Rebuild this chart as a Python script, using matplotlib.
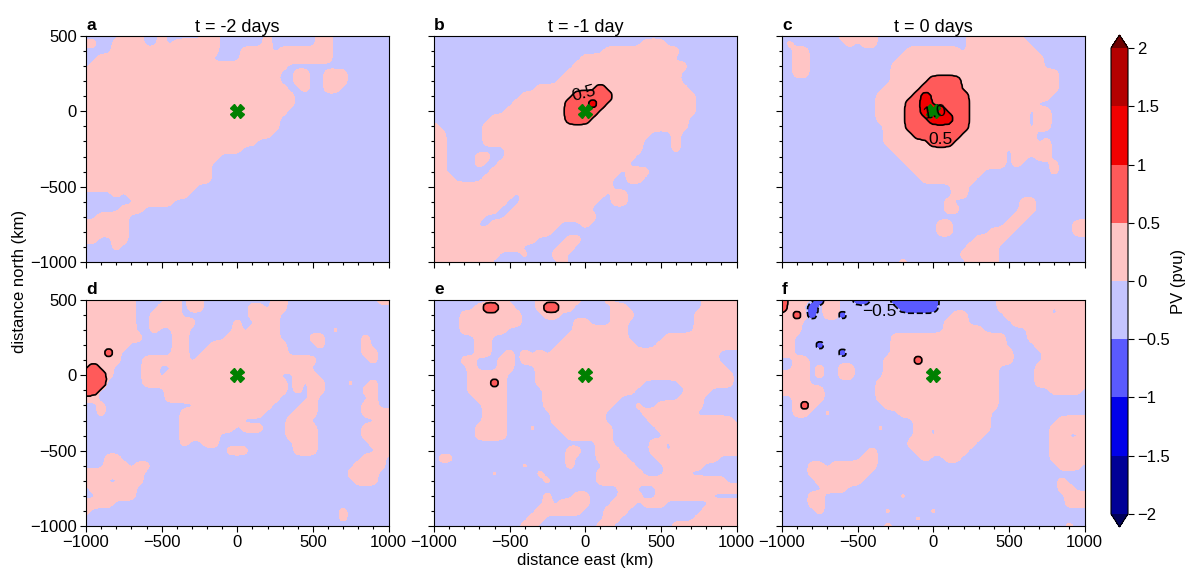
import numpy as np
import matplotlib
matplotlib.use('Agg')
import matplotlib.pyplot as plt
from matplotlib.colors import ListedColormap, BoundaryNorm
from matplotlib.cm import ScalarMappable
from matplotlib.ticker import MultipleLocator

plt.rcParams['font.family'] = ['Liberation Sans', 'DejaVu Sans']
plt.rcParams['font.size'] = 12

# PV on a 50 km grid, rows from y=500 down to y=-1000, x=-1000 to 1000
# - weak negative, + weak positive, r above 0.5, R above 1, b below -0.5
field_a = [
"----- +++-- +---- -++-- ----+ ----- -++-- ----- -",
"++--+ +++-- +-+++ +++-- ----+ ----- -++-- ----- -",
"----+ +++++ +++++ +++-- -++++ -++++ +++-- ----- -",
"--+++ +++++ +++++ ++--- -++++ +++++ +++-- ----- -",
"-++++ +++++ +++++ +++++ +++++ ++--- ----- ----- -",
"+++++ +++++ +++++ +++++ +++++ +--++ --+++ ----- -",
"+++++ +++++ +++++ +++++ +++++ +--++ --+++ ----- -",
"+++++ +++++ +++++ +++++ +++++ ++--+ --++- ----- -",
"+++++ +++++ +++++ +++++ +++++ +++-- ----- ----- -",
"+++++ +++++ +++++ +++++ +++++ +++-- ----- ----- -",
"+++++ +++++ +++++ +++++ +++++ ++--- ----- ----- -",
"+++++ +++++ +++++ +++++ +++++ +---- ----- ----- -",
"+++++ +++++ +++++ +++++ +++++ +---- ----- ----- -",
"+++++ +++++ +++++ +++++ +++++ ----- ----- ----- -",
"+++++ +++++ +++++ +++++ +++-- ----- ----- ----- -",
"+++++ +++++ +++++ +++++ +---- ----- ----- ----- -",
"+++++ +++++ +++++ +++-- ----- ----- ----- ----- -",
"+++++ +++++ +++++ ++--- ----- ----- ----- ----- -",
"+++++ +++++ +++++ ++--- ----- ----- ----- ----- -",
"+++++ +++++ +++++ ++--- ----- ----- ----- ----- -",
"+++++ +++++ +++++ ----- ----- ----- ----- ----- -",
"----+ -++++ ++++- ----- ----- ----- ----- ----- -",
"----- --+++ ++--- ----- ----- ----- ----- ----- -",
"----- +++-- ----- ----- ----- ----- ----- ----- -",
"--+++ +---- ----- ----- ----- ----- ----- ----- -",
"+++++ +---- ----- ----- ----- ----- ----- ----- -",
"+++++ +---- ----- ----- ----- ----- ----- ----- -",
"++--+ +---- ----- ----- ----- ----- ----- ----- -",
"----+ ----- ----- ----- ----- ----- ----- ----- -",
"----- ----- ----- ----- ----- ----- ----- ----- -",
"----- ----- ----- ----- ----- ----- ----- ----- -",
]

field_b = [
"----- ----- ----- ----- ----- ----- ----- ----- -",
"----- ----- ----- ----- ----- ---++ +---- ----- -",
"----- ----- ----- ----- ---++ +++++ +++-- ----- -",
"----- ----- ----- ----- +++++ +++++ ++--- ----- -",
"----- ----- ----- ----+ +++++ +++++ ++++- ----- -",
"----- ----- ----- ---++ +++++ +++++ +++-- ----- -",
"----- ----- ----- --+++ +++++ +++++ +++-- ----- -",
"----- ----- ----+ +++++ ++r++ +++++ ++++- ----- -",
"----- ----- --+++ ++++r rrrr+ +++++ +++++ ----- -",
"----- ----- -++++ +++rr rRr++ +++++ +++++ ----- -",
"----- ----- +++++ +++rr rr+++ +++++ +++++ ----- -",
"----- ---++ +++++ +++rr r++++ +++++ ++++- ----- -",
"+---- --+++ +++++ +++++ +++++ +++++ ++++- ----- -",
"++--- --+++ +++++ +++++ +++++ ++++- --+-- ----- -",
"++--- --+++ +++++ +++++ +++++ +++-- --+-- ----- -",
"++--- ----- +++++ +++++ +++++ +++-- --+-- ----- -",
"++--- -++-- +++++ +++++ +++++ ++--- ----- ----- -",
"++--- -+--+ +++++ +++++ +++++ +---- ----- ----- -",
"++--- ---++ +++++ +++++ +++++ -+++- ----- ----- -",
"+++-- --+++ +++++ +++++ ++++- -++-- ----- ----- -",
"+++++ +++++ +++++ +++++ ++++- ----- ----- ----- -",
"+++++ +++++ +-+++ +++++ +++-+ +---- ----- ----- -",
"+++++ +++++ --+++ +++++ ++--+ +---- ----- ----- -",
"+++++ ++++- -++++ +++++ +---- ----- ----- ----- -",
"+++++ ++--- +++++ +++++ ++--- ----- ----- ----- -",
"+++++ +--++ +++++ ++--- +---- ----- ----- ----- -",
"+++++ +++++ +++++ +---- ----- ----- ----- ----- -",
"+++++ +++++ ++++- ---++ ----- ----- ----- ----- -",
"+++++ +++++ ++--- --++- ----- ----- ----- ----- -",
"+++++ ++++- --+-- -++-- ----- ----- ----- ----- -",
"+++++ +++-- ----- --+-- ----- ----- ----- ----- -",
]

field_c = [
"----- ---++ +++-- ----- ----- +++++ ++--- ----- -",
"-+--- ----+ -++-- ----- ----- +++++ +++-- ----- -",
"--++- ----- ----- --+++ ++++- +++++ ++++- ----- -",
"--++- ----- ----- -++++ +++++ +++++ +++++ ----- -",
"--++- ----- ----- +++++ +++++ +++++ +++++ ----- -",
"--++- ----- ----- +++++ +++++ +++++ +++++ ++--- -",
"----- ----- ----- +++++ rrrr+ +++++ +++++ ++--- -",
"----- ----- ----+ ++++r rrrr+ +++++ +++++ ++--- -",
"----- ----- ---++ +++rR rrrrr +++++ +++++ +---- -",
"----- ----- ---++ ++rrR rrrrr +++++ ++++- ----- -",
"----- ----- ---++ ++rrR RRrrr +++++ +++-+ +---- -",
"----- ----- ---++ ++rrr RRRrr +++++ +++-+ +---- -",
"----- ----- ----+ ++rrr rrrrr +++++ +++-+ +---- -",
"----- ----- ----+ +++rr rrrr+ +++++ ++++- ----- -",
"----- ----- ----+ +++++ rrr++ +++++ ++++- +---- -",
"----- ----- ----- +++++ +++++ +++++ -++++ +---- -",
"----- ----- ----- -++++ +++++ +++++ -++-+ +---- -",
"----- ----- ----- --+++ +++++ +++++ -+--- -+--- -",
"----- ----- ----- ---++ +++++ ++--- ----- -+--- -",
"----- ----- ----- ----+ +++++ +---- ----- ----- -",
"----- ----- ----- ----- ---++ ----- ----- ----- -",
"----- ----- ----- ----- ---++ ----- ----- ----- -",
"----- ----- ----- ----- --+-- ----- --++- ----- -",
"----- ----- ----- ----- --++- ----- --++- ----- -",
"----- ----- ----- ----- ----- ----- -++-- ----- -",
"----- ----- ----- ----- -++-- ----- ++--- ----+ +",
"----- ----- ----- ----- -++-- ---++ +---- ----+ +",
"----- ----- ----- ----- ----- -++++ ----- ----- -",
"----- ----- ----- ----- ----- ++++- ----- ----- -",
"----- ----- ----- ----- ----+ ++++- ----- ----- -",
"----- ----- ----- -+--- ----- ++++- ----- ----- -",
]

field_d = [
"+++++ ++--- -++-+ +---- ----- ++--- ----- ----+ +",
"++-++ ++--- +++-+ +---- --++- ++--- ----- ----- -",
"+++++ ++--+ +++-- ----- --+++ +---- ----- ----- -",
"+++++ ++--+ +++++ ----- +--++ +---- ----- ----- -",
"+++++ ++--+ --++- ----- +-+++ +---- ---+- ----- -",
"+++++ +++-- --++- ----+ +++++ +---- ++--- --+-- -",
"+++++ +---- --++- --+++ +++++ ++--- -+--- --+-- -",
"+++r+ ----- --++- -++++ +++++ ++--- ----- --++- -",
"+++++ ---++ ++++- +++++ +++++ +++++ +---- ---+- -",
"+r++- ---++ --+++ +++++ +++++ +++++ ----- ----- -",
"rrr+- ---++ -++++ +++++ +++++ +--++ +---- ----- -",
"rrr-- ---++ +++-+ +++++ +++++ ++-+- ++--- +--+- -",
"rr--- ----- -++++ +++++ +++++ ++-+- ++--- --++- -",
"++--- ----- -++++ +++++ +++++ +---- +---- ---+- -",
"--+-- ----- ----- +++++ +++++ ----+ +---- --++- -",
"--+-- ----- ---++ +++++ ++++- ---++ +---- --+++ +",
"----- ----- ---++ +++++ +---- --+++ ----- ----+ +",
"----- ----- ---++ +++++ -+++- --+++ +---- --+++ +",
"----- ----- ---++ +++-- ----- --+++ +---- --+++ +",
"----- ----- ---+- -++-- ----- ---++ +---- ---++ +",
"----- ----- ----- ----+ ++--- ---++ +---- ----+ +",
"---++ ----- ----- ----- ----- ----- ----- --+++ -",
"---++ +-++- ----- ----- ----- ----- ----- -++++ -",
"+++++ +++-- ----- ----- ----- ----- ----- ++++- -",
"+++-- +++-- ----- ----- ----- ----- ----- -+++- -",
"-++++ ++--- ----- ----- ----- ----- ----- ----- -",
"--+++ ++--- ----- ----- ----- ----- ----- ----- -",
"++++- ----- ----- ----- ----- ----- ----- ----- -",
"+---- ----- ----- ----- ----- ----- ----+ ----- -",
"----- ----- ----- ----- ----- ----- ----+ ----- -",
"----- ----- ----- ----- ----- ----- ----- ----- -",
]

field_e = [
"----- ---++ ----+ +++-+ ---+- ----- ----- -++++ +",
"----- -+rr+ +---+ rr++- ----+ +---- ----- -++++ +",
"----+ +++++ ++--- ++--- ----+ ++--- ----- +++++ -",
"----+ +++++ ++--- ----+ +---+ +---- ----- +++++ +",
"----+ +++++ ----- ----+ +++++ +---- ----- +++++ +",
"----- -++-- ----- ---++ +++++ +---- -++++ +++++ +",
"----- -++-- ----- --+++ +++++ ++--- +++++ +++++ +",
"----- -++-- +-+-+ -++++ +++++ +++++ +++++ +++-- -",
"----+ +---+ +-+++ +++++ +++++ +++++ +++++ +++-- -",
"----- +---+ +---+ +++++ +++++ +++++ +++++ ++++- -",
"----- +++++ ----+ +++++ +++++ +++++ +++++ +++++ -",
"----- +++r+ ----+ +++++ +++++ +++-- ---++ +++++ -",
"----- +++++ ----- +++++ +++++ ++--- ----+ ++--- -",
"----- -++++ ----- +++++ +++++ ----- ---++ +---- -",
"----- --+++ ----- +++++ ++++- --+-- +++++ +---- -",
"----- --+++ ----- -++++ +++-- ---++ +++++ ----- -",
"----- --+++ ----- -++++ +++-- ----+ ++++- +++++ -",
"----- -++++ ---+- --+++ ++++- ----- +++++ +++++ +",
"----- -++++ ----- ---++ ++++- ----- -++++ +++++ +",
"----- ----- ----- ----- --++- ----+ +-+++ +++++ +",
"----- ----- ----- ---++ --+++ ----+ +-+++ +++++ +",
"-++-- ----- ----- ---+- --+++ +---- +++++ +++-- -",
"----- ----- --+-- ---+- ---++ ++--- -++++ +---- -",
"----- ---+- ----+ ----- --+++ +++-- -+++- ----- -",
"----- ----- ----- +---- --+++ +++++ +++++ ++++- -",
"----- ----- ----- ----- ----- ++--- +++++ +++++ +",
"----- ----- ----- +---+ +---- +++-- +++++ ++--- -",
"----- ----- ----- +-+++ +---+ ++-++ +---- --+++ +",
"----- ----- ----+ +++++ ---++ +---- ----- -++++ +",
"----- ----- ---++ ----- ---++ ----- ----- +++++ +",
"----- ----- --++- ----- --++- ----- --+++ +++++ +",
]

field_f = [
"r+++- b++-- bb--- bbbbb b---- ----+ +++++ +++++ +",
"r++-b -++-- ----- -bbbb b---- ----+ +++++ +-+++ +",
"++r+b -++b- ----- ----- ---++ ----- +++++ +-+++ +",
"+++-- ----- ----- ----- --+++ ----- -++++ +++++ +",
"+++-- ----- ----- ----- --+++ ++--- ---++ +++++ +",
"++--- ----- ----- +++++ +++++ +++++ ---++ +++++ +",
"++--- b---- ----- +++++ +++++ +++++ ----+ +++++ +",
"++--- ---b- ----- +++++ +++++ +++++ +---- +++++ +",
"--++- ----- ----+ +++r+ +++++ +++++ +---- +++++ +",
"--++- +--++ ----+ +++++ +++++ ++++- ----+ +++++ +",
"++++- +--++ ----+ +++++ +++++ ++++- ----+ +++++ +",
"++++- ----- ---++ +++++ +++++ ++++- ----+ +++++ +",
"+++++ +---- ---++ +++++ +++++ ++++- ----- -++++ -",
"--+++ +---- ---++ +++++ +++++ ++++- ----- ----- -",
"--+r+ ----- ----+ +++++ +++++ ++++- ----- ----- -",
"--++- -+--- ----- -++++ +++++ +++-- ----- ----- -",
"----- ----- ----- ---++ +++++ +++-- ----- --+++ +",
"----- ----- ---+- ---++ -++++ +++-- ----- -++++ +",
"----- ----- ----- ---++ -++++ ++--- ----- -++-- +",
"----- ----- ----- --+++ +++++ +---- ----- -++++ +",
"----- ----- --+-- ---++ +++++ ----- ----- -++++ +",
"----- ----- -++-- ----+ --++- ----- ----- -++++ +",
"----+ +-+++ +++-- ----- ----- ----- ----- --+++ -",
"----+ +++++ ++--- ----- ----- ----- ----- ----- -",
"----- +++++ +---- ----- ----- ----- ----- --+-- -",
"----- -+++- ----- ----- ----- ----- ----- --++- -",
"----+ +---- ----- -+--- ----- ----- ----- ---++ +",
"----+ +---- ----- ----- ----- ----- ----- ---++ +",
"----- +---- ----+ ----- +---- ----- ----- ----- -",
"----- ----- ----- ---+- ----- ----- ----- ----- -",
"----- ----- ----+ ----- ----- ----- ----- ---+- -",
]

panel_fields = [field_a, field_b, field_c, field_d, field_e, field_f]
panel_letters = ['a', 'b', 'c', 'd', 'e', 'f']
panel_titles = ['t = -2 days', 't = -1 day', 't = 0 days', '', '', '']
# contour labels: panel index, x, y, text, rotation
contour_labels = [(1, -10, 118, '0.5', 15), (2, 10, -5, '1.0', 10),
                  (2, 45, -190, '0.5', 0), (5, -358, 424, '\u22120.5', 0)]

levels = [-2, -1.5, -1, -0.5, 0, 0.5, 1, 1.5, 2]
colors = ['#000096', '#0000ea', '#5a5aff', '#c5c5ff', '#ffc5c5', '#ff5a5a', '#f00000', '#b40000']
under_color = '#00005a'
over_color = '#6e0000'
cbar_labels = ['\u22122', '\u22121.5', '\u22121', '\u22120.5', '0', '0.5', '1', '1.5', '2']

cmap = ListedColormap(colors)
cmap.set_under(under_color)
cmap.set_over(over_color)
norm = BoundaryNorm(levels, cmap.N)

FINE = 6
SIGMA = 0.52 * FINE
offs = np.arange(-12, 13)
kernel = np.exp(-0.5 * (offs / SIGMA) ** 2)
kernel = kernel / kernel.sum()


def soften(mask):
    # round the blocky 50 km cells so the contours come out smooth
    fine = np.kron(mask.astype(float), np.ones((FINE, FINE)))
    fine = np.pad(fine, 12, mode='edge')
    fine = np.apply_along_axis(lambda m: np.convolve(m, kernel, mode='same'), 0, fine)
    fine = np.apply_along_axis(lambda m: np.convolve(m, kernel, mode='same'), 1, fine)
    return fine[12:-12, 12:-12]


def ramp(t, level):
    # equals level at t=0.3, far below it once t is near 0
    return np.where(t > 0.3, level + (t - 0.3) * 0.7, level - (0.3 - t) * 10)


def build_field(rows):
    cells = np.array([list(r.replace(' ', '')) for r in rows])
    pos = soften(np.isin(cells, ['+', 'r', 'R']))
    red = soften(np.isin(cells, ['r', 'R']))
    dark = soften(cells == 'R')
    blue = soften(cells == 'b')
    pv = (pos - 0.42) * 0.8
    pv = np.maximum(pv, ramp(red, 0.5))
    pv = np.maximum(pv, ramp(dark, 1.0))
    pv = np.minimum(pv, -ramp(blue, 0.5))
    return pv


step = 50.0 / FINE
xs = -1025 + step * (np.arange(41 * FINE) + 0.5)
ys = 525 - step * (np.arange(31 * FINE) + 0.5)

W, H = 1190.0, 568.0
fig = plt.figure(figsize=(W / 100, H / 100), dpi=100)
lefts = [86, 434, 782]
tops = [36, 300]

axes = []
for i, rows in enumerate(panel_fields):
    col = i % 3
    row = i // 3
    ax = fig.add_axes([lefts[col] / W, (H - tops[row] - 226) / H, 302.5 / W, 226 / H])
    axes.append(ax)
    Z = build_field(rows)
    ax.contourf(xs, ys, Z, levels=levels, cmap=cmap, norm=norm, extend='both')
    ax.contour(xs, ys, Z, levels=[l for l in levels if l != 0], colors='k', linewidths=1.2)
    ax.plot([0], [0], marker='X', color='#008000', markersize=10, markeredgecolor='#008000')
    ax.set_xlim(-1000, 1000)
    ax.set_ylim(-1000, 500)
    ax.xaxis.set_major_locator(MultipleLocator(500))
    ax.xaxis.set_minor_locator(MultipleLocator(100))
    ax.yaxis.set_major_locator(MultipleLocator(500))
    ax.yaxis.set_minor_locator(MultipleLocator(100))
    ax.tick_params(which='major', length=4, width=0.8, labelleft=col == 0, labelbottom=row == 1, pad=2.5)
    ax.tick_params(which='minor', length=2, width=0.8)
    ax.set_title(panel_titles[i], fontsize=13, pad=3)
    ax.text(0, 1.012, panel_letters[i], transform=ax.transAxes, fontweight='bold', fontsize=12.5, va='bottom')

for idx, x, y, txt, rot in contour_labels:
    axes[idx].text(x, y, txt, ha='center', va='center', rotation=rot, fontsize=12.5)

fig.text(20 / W, 1 - 281 / H, 'distance north (km)', rotation=90, ha='center', va='center', fontsize=12)
fig.text(585 / W, 1 - 560 / H, 'distance east (km)', ha='center', va='center', fontsize=12)

cax = fig.add_axes([1111 / W, (H - 527) / H, 17 / W, 492 / H])
cbar = fig.colorbar(ScalarMappable(norm=norm, cmap=cmap), cax=cax, extend='both',
                    extendfrac=0.028, ticks=levels, spacing='uniform')
cbar.ax.set_yticklabels(cbar_labels)
cbar.ax.tick_params(length=4, width=0.8, pad=2.5)
cbar.outline.set_linewidth(0.8)
fig.text(1178 / W, 1 - 281 / H, 'PV (pvu)', rotation=90, ha='center', va='center', fontsize=12)

fig.savefig('out.png', dpi=100)
